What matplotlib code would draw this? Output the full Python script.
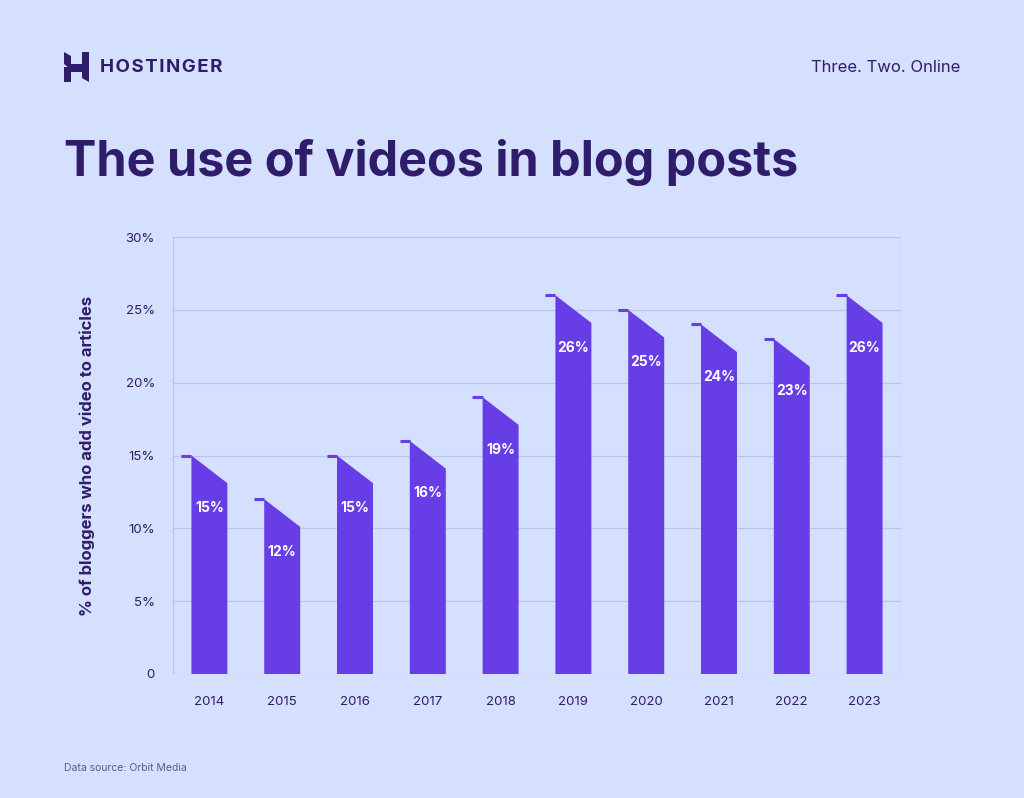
import matplotlib
matplotlib.use("Agg")
import matplotlib.pyplot as plt
from matplotlib.patches import Polygon

years = ["2014","2015","2016","2017","2018","2019","2020","2021","2022","2023"]
values = [15, 12, 15, 16, 19, 26, 25, 24, 23, 26]
yticks = [0, 5, 10, 15, 20, 25, 30]
ylabels = ["0", "5%", "10%", "15%", "20%", "25%", "30%"]

BG = "#D5DFFE"
BAR = "#673DE6"
DARK = "#2F1C6A"
GRID = "#B9C3F0"

plt.rcParams['font.family'] = ['Inter', 'DejaVu Sans']
fig = plt.figure(figsize=(10.24, 7.98), dpi=100, facecolor=BG)
ax = fig.add_axes([173/1024, 124/798, 728/1024, 437/798])
ax.set_facecolor(BG)
ax.set_xlim(-0.5, 9.5)
ax.set_ylim(0, 30)
for y in yticks:
    ax.axhline(y, color=GRID, lw=0.9, zorder=0)
ax.axvline(-0.5, color=GRID, lw=0.9, zorder=0)
ax.axvline(9.5, color=GRID, lw=0.9, zorder=0)
for s in ax.spines.values():
    s.set_visible(False)

hw = 0.247
drop = 1.9
for i, v in enumerate(values):
    l, r = i - hw, i + hw
    ax.add_patch(Polygon([(l, 0), (l, v), (r, v - drop), (r, 0)], closed=True,
                         facecolor=BAR, edgecolor='none', zorder=2))
    ax.plot([l - 0.14, l], [v, v], color=BAR, lw=2.2, solid_capstyle='butt', zorder=3)
    ax.text(i, v - 3.6, f"{v}%", ha='center', va='center', color='white',
            fontsize=10, fontweight='bold', zorder=4)

ax.set_xticks(range(len(years)))
ax.set_xticklabels(years)
ax.set_yticks(yticks)
ax.set_yticklabels(ylabels)
ax.tick_params(length=0, colors=DARK, labelsize=9.5)
ax.tick_params(axis='x', pad=16)
ax.tick_params(axis='y', pad=13)
ax.set_ylabel("% of bloggers who add video to articles", color=DARK,
              fontsize=12, fontweight='bold', labelpad=22)

fig.text(64/1024, 1 - 163/798, "The use of videos in blog posts", color=DARK,
         fontsize=35, fontweight='bold', va='center', ha='left')
fig.text(100/1024, 1 - 67/798, "H O S T I N G E R".replace(" ", "\u200a"), color=DARK, fontsize=13.5,
         fontweight='bold', va='center', ha='left')
fig.text(960/1024, 1 - 67/798, "Three. Two. Online", color=DARK, fontsize=12,
         va='center', ha='right')
fig.text(64/1024, 1 - 768/798, "Data source: Orbit Media", color="#5B5F8A",
         fontsize=7.5, va='center', ha='left')

# logo
def P(pts):
    fig.patches.append(Polygon([(x/1024, 1 - y/798) for x, y in pts], closed=True,
                               transform=fig.transFigure, facecolor=DARK, edgecolor='none'))
P([(64, 52), (71, 56), (71, 64), (64, 64)])
P([(64, 64), (84, 64), (89, 68), (69, 68)])
P([(82, 52), (89, 52), (89, 68), (82, 68)])
P([(64, 67), (71, 67), (71, 82), (64, 82)])
P([(69, 68), (89, 68), (89, 72), (64, 72)])
P([(82, 72), (89, 72), (89, 82), (82, 78)])

fig.savefig("out.png", dpi=100, facecolor=BG)
